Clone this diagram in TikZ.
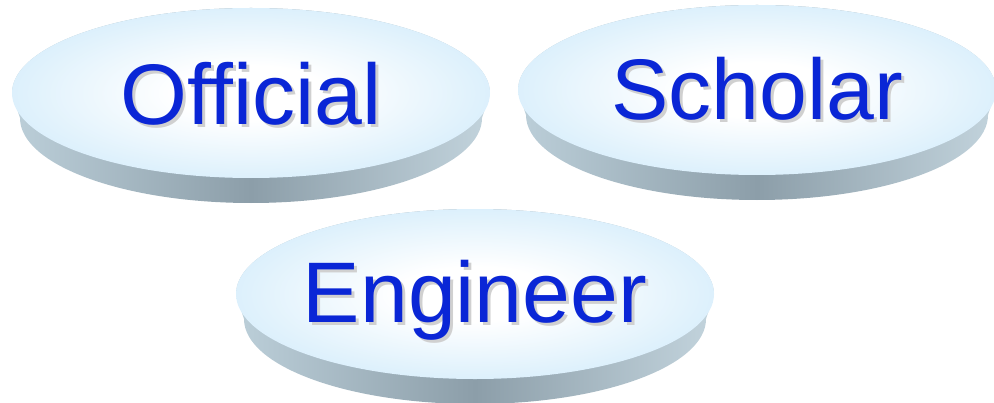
\documentclass[tikz,border=0pt]{standalone}
\usepackage{fontspec}
\setmainfont{Liberation Sans}
\definecolor{faceblue}{HTML}{CCE9FA}
\definecolor{bandlight}{HTML}{BCCFD9}
\definecolor{banddark}{HTML}{8C9EA9}
\definecolor{wordblue}{HTML}{0A26D6}
\definecolor{wordshadow}{HTML}{D0D0D0}
% 盘面：中间发白，边缘浅蓝
\pgfdeclareradialshading{discface}{\pgfpoint{0bp}{0bp}}{%
  color(0bp)=(white); color(8bp)=(white); color(33bp)=(faceblue); color(50bp)=(faceblue)}
\newcommand{\shadowword}[1]{\rlap{\kern1.5pt\raisebox{-1.5pt}{\textcolor{wordshadow}{#1}}}#1}
\begin{document}
\begin{tikzpicture}[x=0.5pt,y=0.5pt,
    discword/.style={anchor=base,inner sep=0pt,text=wordblue,
      font=\fontsize{43}{43}\selectfont}]
    \useasboundingbox (0,0) rectangle (994,402);

    % 三个圆盘：中心 x, 中心 y, 名字, 文字, 基线
    \foreach \cx/\cy/\name/\word/\by in {251/309/official/Official/277,
                                         757/312/scholar/Scholar/282,
                                         475/108/engineer/Engineer/80}{
      % 绘制侧面
      \shade[left color=bandlight,right color=bandlight!90!white,middle color=banddark]
        (\cx-239,\cy) -- (\cx-231,\cy-25) arc (180:360:231 and 85)
        -- (\cx+239,\cy) arc (0:180:239 and 85) -- cycle;
      % 绘制盘面
      \shade[shading=discface] (\cx,\cy) ellipse (239 and 85);
      % 标注文字
      \node[discword] (\name) at (\cx,\by) {\shadowword{\word}};
    }
\end{tikzpicture}
\end{document}
